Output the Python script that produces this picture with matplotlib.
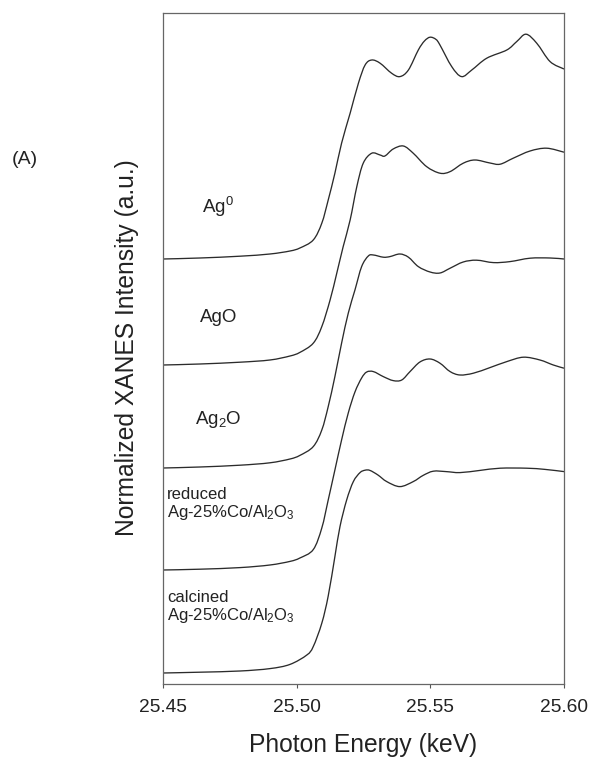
import matplotlib
matplotlib.use("Agg")
import matplotlib.pyplot as plt
from matplotlib.path import Path
from matplotlib.patches import PathPatch

plt.rcParams['font.family'] = ['Liberation Sans', 'DejaVu Sans']
plt.rcParams['mathtext.fontset'] = 'custom'
plt.rcParams['mathtext.rm'] = 'Liberation Sans'
plt.rcParams['mathtext.it'] = 'Liberation Sans'

# normalized Ag K-edge XANES, energy in keV
e_ag0 = [25.4500, 25.4638, 25.4788, 25.4900, 25.4975, 25.5012, 25.5062, 25.5094,
         25.5118, 25.5143, 25.5168, 25.5200, 25.5231, 25.5256, 25.5281, 25.5312,
         25.5355, 25.5386, 25.5418, 25.5455, 25.5478, 25.5499, 25.5521, 25.5536,
         25.5580, 25.5617, 25.5655, 25.5711, 25.5786, 25.5823, 25.5858, 25.5898,
         25.5948, 25.6000]
mu_ag0 = [0.000, 0.005, 0.014, 0.025, 0.040, 0.055, 0.095, 0.179,
          0.295, 0.429, 0.579, 0.729, 0.879, 0.970, 0.995, 0.979,
          0.929, 0.912, 0.945, 1.045, 1.090, 1.109, 1.098, 1.070,
          0.962, 0.912, 0.945, 1.004, 1.045, 1.087, 1.124, 1.079,
          0.987, 0.950]

e_ago = [25.4500, 25.4638, 25.4788, 25.4900, 25.4975, 25.5012, 25.5062, 25.5094,
         25.5125, 25.5150, 25.5174, 25.5200, 25.5225, 25.5249, 25.5281, 25.5312,
         25.5330, 25.5361, 25.5399, 25.5436, 25.5486, 25.5536, 25.5574, 25.5623,
         25.5667, 25.5723, 25.5761, 25.5810, 25.5873, 25.5935, 25.6000]
mu_ago = [0.000, 0.005, 0.014, 0.025, 0.045, 0.063, 0.109, 0.192,
          0.325, 0.459, 0.592, 0.725, 0.892, 1.009, 1.059, 1.050,
          1.045, 1.080, 1.095, 1.059, 0.992, 0.959, 0.967, 1.009,
          1.025, 1.010, 1.004, 1.034, 1.070, 1.084, 1.064]

e_ag2o = [25.4500, 25.4638, 25.4788, 25.4900, 25.4975, 25.5012, 25.5062, 25.5094,
          25.5118, 25.5143, 25.5168, 25.5193, 25.5218, 25.5243, 25.5268, 25.5287,
          25.5324, 25.5349, 25.5386, 25.5418, 25.5455, 25.5499, 25.5536, 25.5574,
          25.5623, 25.5673, 25.5736, 25.5798, 25.5873, 25.5948, 25.6000]
mu_ag2o = [0.000, 0.005, 0.014, 0.026, 0.045, 0.063, 0.107, 0.190,
           0.307, 0.457, 0.624, 0.774, 0.890, 1.007, 1.060, 1.065,
           1.054, 1.057, 1.070, 1.054, 1.007, 0.980, 0.975, 0.999,
           1.030, 1.039, 1.027, 1.032, 1.049, 1.050, 1.045]

e_red = [25.4500, 25.4638, 25.4788, 25.4900, 25.4975, 25.5012, 25.5062,
         25.5094, 25.5118, 25.5143, 25.5168, 25.5193, 25.5218, 25.5243, 25.5262,
         25.5287, 25.5324, 25.5361, 25.5393, 25.5424, 25.5461, 25.5499, 25.5536,
         25.5574, 25.5611, 25.5661, 25.5723, 25.5786, 25.5848, 25.5910, 25.5960,
         25.6000]
mu_red = [0.000, 0.004, 0.012, 0.025, 0.043, 0.060, 0.102,
          0.210, 0.350, 0.500, 0.650, 0.785, 0.890, 0.960, 0.990,
          0.992, 0.967, 0.947, 0.950, 0.992, 1.040, 1.055, 1.034,
          0.992, 0.975, 0.984, 1.012, 1.042, 1.064, 1.050, 1.025,
          1.009]

e_calc = [25.4500, 25.4638, 25.4788, 25.4900, 25.4975, 25.5038, 25.5062, 25.5094,
          25.5118, 25.5143, 25.5162, 25.5187, 25.5212, 25.5237, 25.5256, 25.5274,
          25.5304, 25.5337, 25.5386, 25.5436, 25.5473, 25.5511, 25.5559, 25.5611,
          25.5686, 25.5761, 25.5860, 25.5929, 25.6000]
mu_calc = [0.000, 0.004, 0.010, 0.022, 0.043, 0.090, 0.132, 0.249,
           0.385, 0.582, 0.732, 0.865, 0.957, 1.002, 1.014, 1.013,
           0.990, 0.957, 0.932, 0.957, 0.988, 1.009, 1.007, 1.002,
           1.013, 1.024, 1.024, 1.018, 1.007]

offsets = [2.125, 1.595, 1.080, 0.570, 0.055]
energies = [e_ag0, e_ago, e_ag2o, e_red, e_calc]
spectra = [mu_ag0, mu_ago, mu_ag2o, mu_red, mu_calc]


def smooth_path(x, y):
    # Catmull-Rom style cubic Bezier segments through the measured points
    pts = list(zip(x, y))
    verts = [pts[0]]
    codes = [Path.MOVETO]
    n = len(pts)
    for i in range(n - 1):
        p0 = pts[max(i - 1, 0)]
        p1 = pts[i]
        p2 = pts[i + 1]
        p3 = pts[min(i + 2, n - 1)]
        c1 = (p1[0] + (p2[0] - p0[0]) / 6, p1[1] + (p2[1] - p0[1]) / 6)
        c2 = (p2[0] - (p3[0] - p1[0]) / 6, p2[1] - (p3[1] - p1[1]) / 6)
        verts += [c1, c2, p2]
        codes += [Path.CURVE4] * 3
    return Path(verts, codes)


fig = plt.figure(figsize=(5.90, 7.58), dpi=100)
ax = fig.add_axes([163 / 590, 74 / 758, 401 / 590, 671 / 758])

for e, mu, off in zip(energies, spectra, offsets):
    path = smooth_path(e, [m + off for m in mu])
    ax.add_patch(PathPatch(path, facecolor='none', edgecolor='#2b2b2b', lw=0.95))

ax.set_xlim(25.45, 25.60)
ax.set_ylim(0, 3.355)
ax.set_xticks([25.45, 25.50, 25.55, 25.60])
ax.set_xticklabels(['25.45', '25.50', '25.55', '25.60'])
ax.set_yticks([])
ax.tick_params(axis='x', direction='out', length=3, width=0.8, pad=8,
               labelsize=13.8, color='#555555', labelcolor='#222222')
for s in ax.spines.values():
    s.set_color('#666666')
    s.set_linewidth(0.9)

# sample labels
ax.text(25.4646, 2.385, 'Ag$^{0}$', fontsize=13.5, va='center', color='#222222')
ax.text(25.4638, 1.830, 'AgO', fontsize=13.5, va='center', color='#222222')
ax.text(25.4620, 1.320, 'Ag$_{2}$O', fontsize=13.5, va='center', color='#222222')
ax.text(25.4515, 0.985, 'reduced\nAg-25%Co/Al$_{2}$O$_{3}$', fontsize=12,
        va='top', linespacing=1.1, color='#222222')
ax.text(25.4515, 0.470, 'calcined\nAg-25%Co/Al$_{2}$O$_{3}$', fontsize=12,
        va='top', linespacing=1.1, color='#222222')

fig.text(127 / 590, 1 - 348 / 758, 'Normalized XANES Intensity (a.u.)',
         rotation=90, ha='center', va='center', fontsize=17.7, color='#222222')
fig.text(363.5 / 590, 1 - 752 / 758, 'Photon Energy (keV)', ha='center',
         va='baseline', fontsize=17.7, color='#222222')
fig.text(25 / 590, 1 - 160 / 758, '(A)', ha='center', va='center',
         fontsize=14, color='#222222')

fig.savefig('out.png', dpi=100)
